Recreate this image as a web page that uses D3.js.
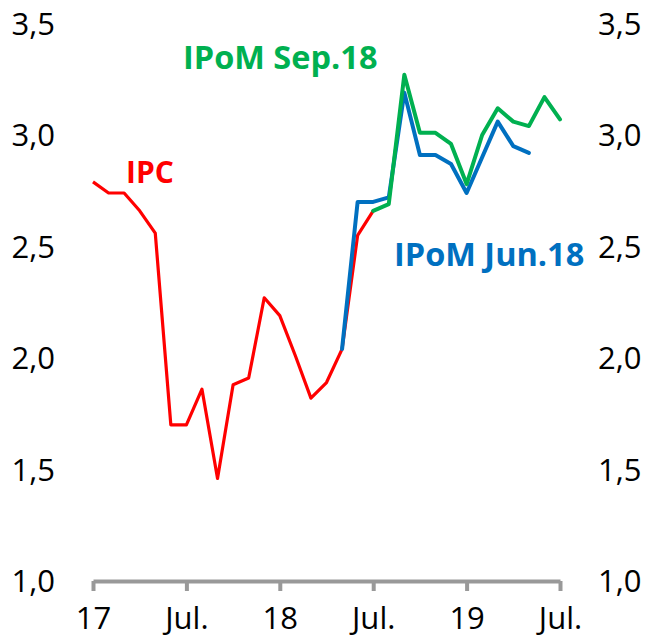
<!DOCTYPE html>
<html>
<head>
<meta charset="utf-8">
<script src="https://cdn.jsdelivr.net/npm/d3@7"></script>
<style>
  body { margin: 0; background: #fff; }
  text { font-family: "Open Sans", "Liberation Sans", sans-serif; }
</style>
</head>
<body>
<div id="chart"></div>
<script>
// months Jan 2017 .. Jul 2019
var months = ["2017-01","2017-02","2017-03","2017-04","2017-05","2017-06","2017-07","2017-08","2017-09","2017-10","2017-11","2017-12",
              "2018-01","2018-02","2018-03","2018-04","2018-05","2018-06","2018-07","2018-08","2018-09","2018-10","2018-11","2018-12",
              "2019-01","2019-02","2019-03","2019-04","2019-05","2019-06","2019-07"];

// IPC (actual), IPoM Jun.18 and IPoM Sep.18 projections
var ipc   = [2.79, 2.74, 2.74, 2.66, 2.56, 1.70, 1.70, 1.86, 1.46, 1.88, 1.91, 2.27,
             2.19, 2.01, 1.82, 1.89, 2.04, 2.55, 2.66];
var jun18 = [null, null, null, null, null, null, null, null, null, null, null, null,
             null, null, null, null, 2.04, 2.70, 2.70, 2.72, 3.19, 2.91, 2.91, 2.87,
             2.74, 2.90, 3.06, 2.95, 2.92];
var sep18 = [null, null, null, null, null, null, null, null, null, null, null, null,
             null, null, null, null, null, null, 2.66, 2.69, 3.27, 3.01, 3.01, 2.96,
             2.78, 3.00, 3.12, 3.06, 3.04, 3.17, 3.07];

var xTicks = ["2017-01","2017-07","2018-01","2018-07","2019-01","2019-07"];
var xTickLabels = ["17", "Jul.", "18", "Jul.", "19", "Jul."];
var yTicks = [1.0, 1.5, 2.0, 2.5, 3.0, 3.5];

var svgWidth = 646;
var svgHeight = 643;

var svg = d3.select("#chart")
  .append("svg")
  .attr("width", svgWidth)
  .attr("height", svgHeight);

var xScale = d3.scalePoint()
  .domain(months)
  .range([93, 560]);

var yScale = d3.scaleLinear()
  .domain([1.0, 3.5])
  .range([581, 23.5]);

var locale = d3.formatLocale({decimal: ",", thousands: ".", grouping: [3], currency: ["", ""]});
var fmt = locale.format(".1f");

// left / right value labels
var leftAxis = d3.axisLeft(yScale).tickValues(yTicks).tickFormat(fmt).tickSize(0).tickPadding(0);
var gl = svg.append("g").attr("transform", "translate(55,0)").call(leftAxis);
gl.select(".domain").remove();
gl.selectAll("text").attr("font-size", 31).attr("fill", "#000").attr("dy", "0.35em")
  .style("font-family", "'Open Sans', sans-serif");

var rightAxis = d3.axisRight(yScale).tickValues(yTicks).tickFormat(fmt).tickSize(0).tickPadding(0);
var gr = svg.append("g").attr("transform", "translate(598,0)").call(rightAxis);
gr.select(".domain").remove();
gr.selectAll("text").attr("font-size", 31).attr("fill", "#000").attr("dy", "0.35em")
  .style("font-family", "'Open Sans', sans-serif");

// bottom axis
var bottomAxis = d3.axisBottom(xScale)
  .tickValues(xTicks)
  .tickFormat((d, i) => xTickLabels[i])
  .tickSizeInner(10)
  .tickSizeOuter(0)
  .tickPadding(16);
var gb = svg.append("g").attr("transform", `translate(0,${yScale(1.0)})`).call(bottomAxis);
gb.select(".domain").attr("stroke", "#999").attr("stroke-width", 4);
gb.selectAll(".tick line").attr("stroke", "#999").attr("stroke-width", 4);
gb.selectAll("text").attr("font-size", 31).attr("fill", "#000")
  .style("font-family", "'Open Sans', sans-serif");

// lines
function lineFor(values) {
  return d3.line()
    .defined(d => d != null)
    .x((d, i) => xScale(months[i]))
    .y(d => yScale(d))(values);
}

svg.append("path")
  .attr("d", lineFor(ipc))
  .attr("fill", "none")
  .attr("stroke", "#FF0000")
  .attr("stroke-width", 3.2)
  .attr("stroke-linejoin", "round");

svg.append("path")
  .attr("d", lineFor(jun18))
  .attr("fill", "none")
  .attr("stroke", "#0070C0")
  .attr("stroke-width", 4)
  .attr("stroke-linejoin", "round")
  .attr("stroke-linecap", "round");

svg.append("path")
  .attr("d", lineFor(sep18))
  .attr("fill", "none")
  .attr("stroke", "#00B050")
  .attr("stroke-width", 4)
  .attr("stroke-linejoin", "round")
  .attr("stroke-linecap", "round");

// series labels
svg.append("text")
  .attr("x", 126).attr("y", 183)
  .attr("font-size", 30).attr("font-weight", "bold")
  .attr("fill", "#FF0000")
  .text("IPC");

svg.append("text")
  .attr("x", 183).attr("y", 69)
  .attr("font-size", 32.5).attr("font-weight", "bold")
  .attr("fill", "#00B050")
  .text("IPoM Sep.18");

svg.append("text")
  .attr("x", 394).attr("y", 266)
  .attr("font-size", 32.5).attr("font-weight", "bold")
  .attr("fill", "#0070C0")
  .text("IPoM Jun.18");
</script>
</body>
</html>
